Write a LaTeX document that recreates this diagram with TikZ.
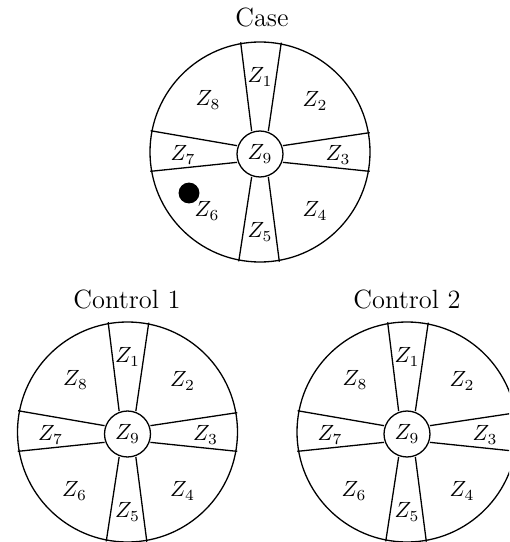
\documentclass[tikz,border=0pt]{standalone}
\begin{document}
\begin{tikzpicture}[x=0.454545pt,y=-0.454545pt,scale=2.2,transform shape,
  zlab/.style={font=\normalsize, inner sep=0pt},
  ttl/.style={font=\large, anchor=base, inner sep=0pt},
  rim/.style={draw, circle, line width=1.3pt, minimum size=100pt, inner sep=0pt},
  hub/.style={draw, circle, line width=1.3pt, minimum size=20.9pt, inner sep=0pt, font=\normalsize},
  spoke/.style={line width=1.3pt},
  dotmark/.style={circle, fill=black, minimum size=9.5pt, inner sep=0pt},
  pics/wheel/.style={code={
    \node[rim] (-o) at (0,0) {};
    \node[hub] (-c) at (0,2) {$Z_9$};
    \foreach \p/\q in {20/10.5,-20/-10.5,70/79.5,110/100.5,160/169.5,200/190.5,250/259.5,290/280.5} {
      \draw[spoke] (-c.\p) -- (-o.\q);
    }
    \node[zlab] (-z1) at (0,-75) {$Z_1$};
    \node[zlab] (-z2) at (55,-51) {$Z_2$};
    \node[zlab] (-z3) at (78,3) {$Z_3$};
    \node[zlab] (-z4) at (55,59) {$Z_4$};
    \node[zlab] (-z5) at (0,80) {$Z_5$};
    \node[zlab] (-z6) at (-53,59) {$Z_6$};
    \node[zlab] (-z7) at (-77,3) {$Z_7$};
    \node[zlab] (-z8) at (-52,-52) {$Z_8$};
  }}]
\useasboundingbox (0,0) rectangle (509,542);
\clip (0,0) rectangle (509,542);
\node[ttl] (casetitle) at (262,27) {Case};
\node[ttl] (c1title) at (127,308) {Control 1};
\node[ttl] (c2title) at (407,308) {Control 2};
\pic (case) at (260,152) {wheel};
\pic (ctrla) at (127.5,432) {wheel};
\pic (ctrlb) at (407,432) {wheel};
\node[dotmark] (dot) at (189,193) {};
\end{tikzpicture}
\end{document}
